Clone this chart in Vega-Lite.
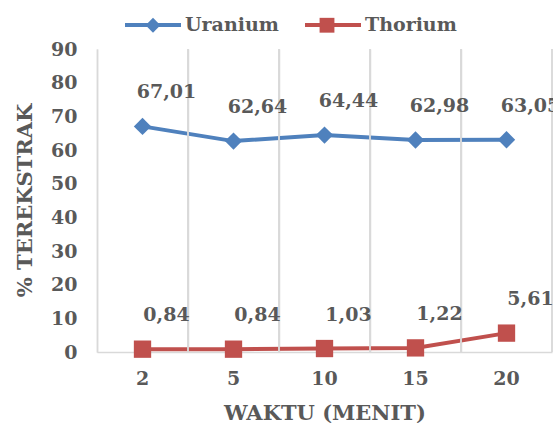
{
  "$schema": "https://vega.github.io/schema/vega-lite/v6.json",
  "width": 455,
  "height": 303,
  "autosize": "none",
  "padding": {"left": 97, "top": 49, "right": 1, "bottom": 71},
  "data": {
    "values": [
      {"waktu": 2, "series": "Uranium", "value": 67.01},
      {"waktu": 5, "series": "Uranium", "value": 62.64},
      {"waktu": 10, "series": "Uranium", "value": 64.44},
      {"waktu": 15, "series": "Uranium", "value": 62.98},
      {"waktu": 20, "series": "Uranium", "value": 63.05},
      {"waktu": 2, "series": "Thorium", "value": 0.84},
      {"waktu": 5, "series": "Thorium", "value": 0.84},
      {"waktu": 10, "series": "Thorium", "value": 1.03},
      {"waktu": 15, "series": "Thorium", "value": 1.22},
      {"waktu": 20, "series": "Thorium", "value": 5.61}
    ]
  },
  "config": {
    "view": {"stroke": null},
    "font": "DejaVu Serif",
    "locale": {"number": {"decimal": ",", "thousands": ".", "grouping": [3], "currency": ["", ""]}},
    "axis": {
      "labelFont": "DejaVu Serif",
      "labelFontWeight": "bold",
      "labelColor": "#595959",
      "labelFontSize": 19,
      "labelOverlap": false,
      "titleFont": "DejaVu Serif",
      "titleFontWeight": "bold",
      "titleColor": "#595959",
      "titleFontSize": 21,
      "domainColor": "#D9D9D9",
      "domainWidth": 1.5,
      "ticks": false,
      "tickSize": 0,
      "gridColor": "#D9D9D9",
      "gridWidth": 1.5
    },
    "legend": {
      "labelFont": "DejaVu Serif",
      "labelFontWeight": "bold",
      "labelColor": "#595959",
      "labelFontSize": 19,
      "labelLimit": 0,
      "padding": 0
    }
  },
  "encoding": {
    "x": {
      "field": "waktu", "type": "ordinal",
      "scale": {"paddingInner": 0, "paddingOuter": 0},
      "axis": {
        "title": "WAKTU (MENIT)",
        "labelAngle": 0,
        "labelPadding": 17,
        "grid": true,
        "bandPosition": 0,
        "titleY": 61,
        "titleBaseline": "middle"
      }
    },
    "y": {
      "field": "value", "type": "quantitative",
      "scale": {"domain": [0, 90], "nice": false},
      "axis": {
        "title": "% TEREKSTRAK",
        "values": [0, 10, 20, 30, 40, 50, 60, 70, 80, 90],
        "labelOverlap": false,
        "grid": false,
        "labelPadding": 20,
        "titleX": -72,
        "titleY": 151,
        "titleAngle": -90,
        "titleBaseline": "middle",
        "titleAlign": "center"
      }
    }
  },
  "resolve": {"legend": {"color": "independent", "shape": "independent"}},
  "layer": [
    {
      "mark": {"type": "line", "strokeWidth": 4},
      "encoding": {
        "color": {
          "field": "series", "type": "nominal",
          "scale": {"domain": ["Uranium", "Thorium"], "range": ["#4F81BD", "#C0504D"]},
          "legend": {
            "title": null,
            "orient": "none",
            "direction": "horizontal",
            "legendX": 26,
            "legendY": -54,
            "symbolType": "stroke",
            "symbolSize": 3136,
            "symbolStrokeWidth": 4,
            "labelOffset": 2,
            "columnPadding": 18
          }
        }
      }
    },
    {
      "mark": {"type": "rule", "color": "#D9D9D9", "strokeWidth": 1.5},
      "encoding": {
        "x": {"field": "waktu", "type": "ordinal", "bandPosition": 1},
        "y": null
      }
    },
    {
      "mark": {"type": "point", "filled": true, "opacity": 1, "size": 300},
      "encoding": {
        "color": {
          "field": "series", "type": "nominal",
          "legend": {
            "title": null,
            "orient": "none",
            "direction": "horizontal",
            "legendX": 46.5,
            "legendY": -33.5,
            "symbolSize": 220,
            "symbolStrokeWidth": 0,
            "symbolOpacity": 1,
            "labelOffset": 43,
            "labelOpacity": 0,
            "columnPadding": 18
          }
        },
        "shape": {
          "field": "series", "type": "nominal",
          "scale": {"domain": ["Uranium", "Thorium"], "range": ["diamond", "square"]},
          "legend": {
            "title": null,
            "orient": "none",
            "direction": "horizontal",
            "legendX": 46.5,
            "legendY": -33.5,
            "symbolSize": 220,
            "symbolStrokeWidth": 0,
            "symbolOpacity": 1,
            "labelOffset": 43,
            "labelOpacity": 0,
            "columnPadding": 18
          }
        }
      }
    },
    {
      "mark": {
        "type": "text",
        "font": "DejaVu Serif",
        "fontWeight": "bold",
        "fontSize": 19,
        "color": "#595959",
        "dx": 24,
        "dy": -34,
        "align": "center",
        "baseline": "middle"
      },
      "encoding": {
        "text": {"field": "value", "type": "quantitative", "format": ".2f"}
      }
    }
  ]
}
